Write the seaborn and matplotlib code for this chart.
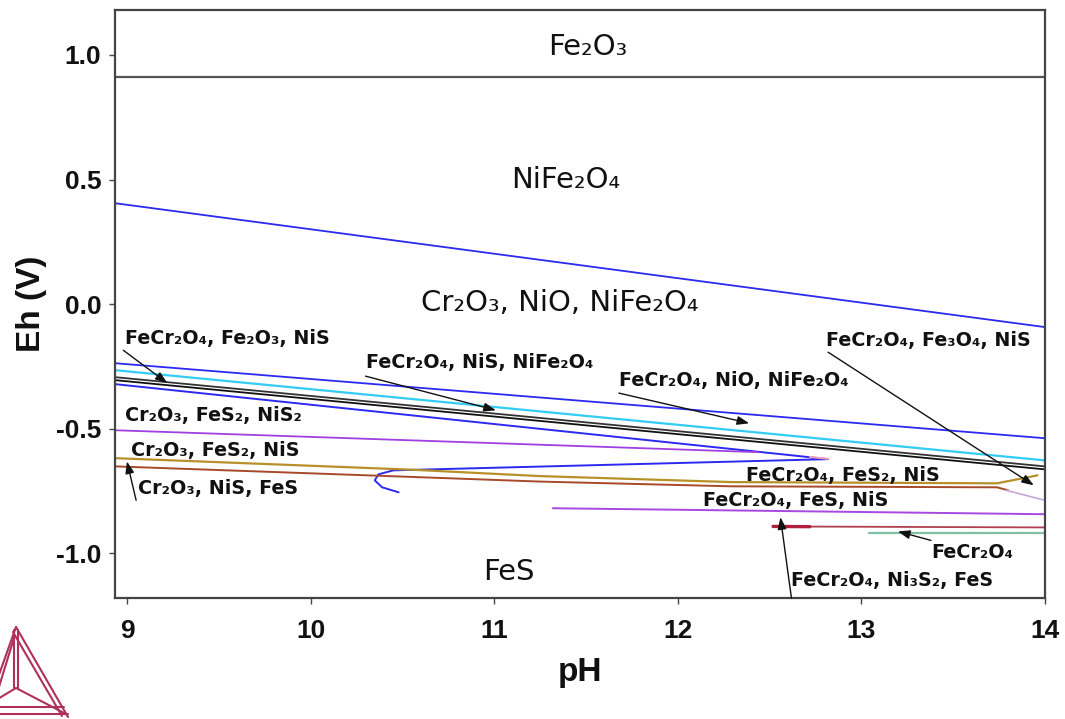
import matplotlib
matplotlib.use("Agg")
import matplotlib.pyplot as plt
from matplotlib.lines import Line2D
from matplotlib import font_manager as fm
import pandas as pd
import seaborn as sns

# Pourbaix (Eh-pH) boundaries of the Fe-Cr-Ni-S-H2O system, pH 9-14
fe2o3_ph = [8.935, 14.0]
fe2o3_eh = [0.91, 0.91]

nife2o4_ph = [8.935, 14.0]
nife2o4_eh = [0.405, -0.092]

nio_top_ph = [8.935, 14.0]
nio_top_eh = [-0.237, -0.538]

cyan_ph = [8.935, 14.0]
cyan_eh = [-0.265, -0.627]

black1_ph = [8.935, 14.0]
black1_eh = [-0.293, -0.651]

black2_ph = [8.935, 14.0]
black2_eh = [-0.305, -0.663]

blue_z_ph = [8.935, 12.82, 10.45, 10.37, 10.35, 10.39, 10.48]
blue_z_eh = [-0.321, -0.622, -0.667, -0.683, -0.707, -0.735, -0.755]

pink_ph = [12.72, 12.82]
pink_eh = [-0.613, -0.621]

nis2_ph = [8.935, 12.44]
nis2_eh = [-0.506, -0.594]

fes2_ph = [8.935, 10.54, 11.25, 12.29, 13.74, 13.96]
fes2_eh = [-0.618, -0.664, -0.690, -0.714, -0.719, -0.687]

fes_ph = [8.935, 10.54, 11.25, 12.29, 13.74, 13.80]
fes_eh = [-0.651, -0.693, -0.712, -0.731, -0.735, -0.747]

lilac_ph = [13.79, 14.0]
lilac_eh = [-0.747, -0.787]

ni3s2_ph = [11.32, 14.0]
ni3s2_eh = [-0.819, -0.843]

crimson_ph = [12.52, 14.0]
crimson_eh = [-0.892, -0.896]

crimson_thick_ph = [12.52, 12.72]
crimson_thick_eh = [-0.892, -0.893]

green_ph = [13.04, 14.0]
green_eh = [-0.920, -0.920]

x_ticks = [9, 10, 11, 12, 13, 14]
y_ticks = [-1.0, -0.5, 0.0, 0.5, 1.0]
y_tick_labels = ["-1.0", "-0.5", "0.0", "0.5", "1.0"]

sns.set_theme(style="white")
plt.rcParams["font.family"] = ["DejaVu Sans"]


def arial_bold(size):
    """Liberation Sans Bold (regular width), falling back to DejaVu Sans Bold."""
    for f in fm.fontManager.ttflist:
        if (f.name == "Liberation Sans" and f.weight in (700, "bold")
                and f.style == "normal" and "Narrow" not in f.fname):
            return fm.FontProperties(fname=f.fname, size=size)
    return fm.FontProperties(family="DejaVu Sans", weight="bold", size=size)


fig = plt.figure(figsize=(10.65, 7.19), dpi=100)
ax = fig.add_axes([0.108, 0.168, 0.873, 0.818])

curves = [
    (fe2o3_ph, fe2o3_eh, "#555555", 1.6),
    (nife2o4_ph, nife2o4_eh, "#2a2af0", 1.3),
    (nio_top_ph, nio_top_eh, "#2a2af0", 1.3),
    (cyan_ph, cyan_eh, "#33ccf5", 1.6),
    (black1_ph, black1_eh, "#333333", 1.3),
    (black2_ph, black2_eh, "#111111", 1.3),
    (blue_z_ph, blue_z_eh, "#2a2af0", 1.4),
    (pink_ph, pink_eh, "#f4a0b8", 1.4),
    (nis2_ph, nis2_eh, "#a040e0", 1.3),
    (fes2_ph, fes2_eh, "#b8902a", 1.6),
    (fes_ph, fes_eh, "#a84a2a", 1.4),
    (lilac_ph, lilac_eh, "#c8a8d8", 1.2),
    (ni3s2_ph, ni3s2_eh, "#a848e0", 1.4),
    (crimson_ph, crimson_eh, "#b04050", 1.3),
    (crimson_thick_ph, crimson_thick_eh, "#b0203c", 2.4),
    (green_ph, green_eh, "#80c0a0", 1.6),
]
for ph, eh, col, lw in curves:
    df = pd.DataFrame({"pH": ph, "Eh": eh})
    sns.lineplot(data=df, x="pH", y="Eh", sort=False, estimator=None,
                 color=col, linewidth=lw, ax=ax)

ax.set_xlim(8.935, 14.0)
ax.set_ylim(-1.18, 1.18)

ax.set_xticks(x_ticks)
ax.set_xticklabels([str(t) for t in x_ticks])
ax.set_yticks(y_ticks)
ax.set_yticklabels(y_tick_labels)
tick_fp = arial_bold(19)
for lab in ax.get_xticklabels() + ax.get_yticklabels():
    lab.set_fontproperties(tick_fp)
    lab.set_color("#111111")
ax.tick_params(axis="both", direction="out", length=4, width=1,
               color="#444444", pad=6, bottom=True, left=True)
ax.tick_params(axis="x", pad=11)

for sp in ax.spines.values():
    sp.set_color("#444444")
    sp.set_linewidth(1.6)

ax.set_xlabel("pH", fontproperties=arial_bold(24), labelpad=10,
              color="#111111")
ax.set_ylabel("Eh (V)", fontproperties=arial_bold(24), labelpad=6,
              color="#111111")

# phase-field labels
big = dict(fontsize=21, ha="center", va="center", color="#111111")
ax.text(11.51, 1.03, "Fe₂O₃", **big)
ax.text(11.39, 0.498, "NiFe₂O₄", **big)
ax.text(11.36, 0.004, "Cr₂O₃, NiO, NiFe₂O₄", **big)
ax.text(11.08, -1.076, "FeS", **big)

small = dict(fontsize=13.8, fontweight="bold", ha="left", va="center",
             color="#111111")
ax.text(8.99, -0.137, "FeCr₂O₄, Fe₂O₃, NiS", **small)
ax.text(10.30, -0.233, "FeCr₂O₄, NiS, NiFe₂O₄", **small)
ax.text(11.68, -0.305, "FeCr₂O₄, NiO, NiFe₂O₄", **small)
ax.text(12.81, -0.145, "FeCr₂O₄, Fe₃O₄, NiS", **small)
ax.text(8.99, -0.446, "Cr₂O₃, FeS₂, NiS₂", **small)
ax.text(9.02, -0.586, "Cr₂O₃, FeS₂, NiS", **small)
ax.text(9.06, -0.739, "Cr₂O₃, NiS, FeS", **small)
ax.text(12.37, -0.687, "FeCr₂O₄, FeS₂, NiS", **small)
ax.text(12.14, -0.787, "FeCr₂O₄, FeS, NiS", **small)
ax.text(13.38, -0.996, "FeCr₂O₄", **small)
ax.text(12.62, -1.108, "FeCr₂O₄, Ni₃S₂, FeS", **small)

# leader arrows for narrow fields
arrows = [
    ((8.98, -0.185), (9.22, -0.317)),
    ((10.30, -0.289), (11.01, -0.426)),
    ((11.68, -0.357), (12.39, -0.478)),
    ((12.82, -0.193), (13.94, -0.727)),
    ((9.05, -0.787), (9.00, -0.631)),
    ((13.38, -0.948), (13.20, -0.912)),
    ((12.62, -1.18), (12.56, -0.855)),
]
for tail, head in arrows:
    ax.annotate("", xy=head, xytext=tail,
                arrowprops=dict(arrowstyle="-|>,head_length=0.6,head_width=0.22",
                                color="#111111", lw=1.0, shrinkA=0, shrinkB=0))

# tetrahedron logo in the lower-left corner
W, H = 1065.0, 719.0
logo_col = "#b0305a"
def px(x, y):
    return x / W, 1 - y / H
segs = [
    [(16, 627), (68, 717)], [(13, 632), (62, 716)],
    [(16, 627), (-10, 700)], [(14, 638), (-6, 703)],
    [(14, 630), (14, 688)], [(18, 630), (18, 688)],
    [(16, 688), (66, 714)], [(16, 688), (-4, 700)],
    [(-5, 707), (64, 707)], [(-5, 714), (68, 714)],
]
for s in segs:
    (x0, y0), (x1, y1) = px(*s[0]), px(*s[1])
    fig.add_artist(Line2D([x0, x1], [y0, y1], color=logo_col, lw=1.5,
                          transform=fig.transFigure))

fig.savefig("out.png", dpi=100, facecolor="white")
